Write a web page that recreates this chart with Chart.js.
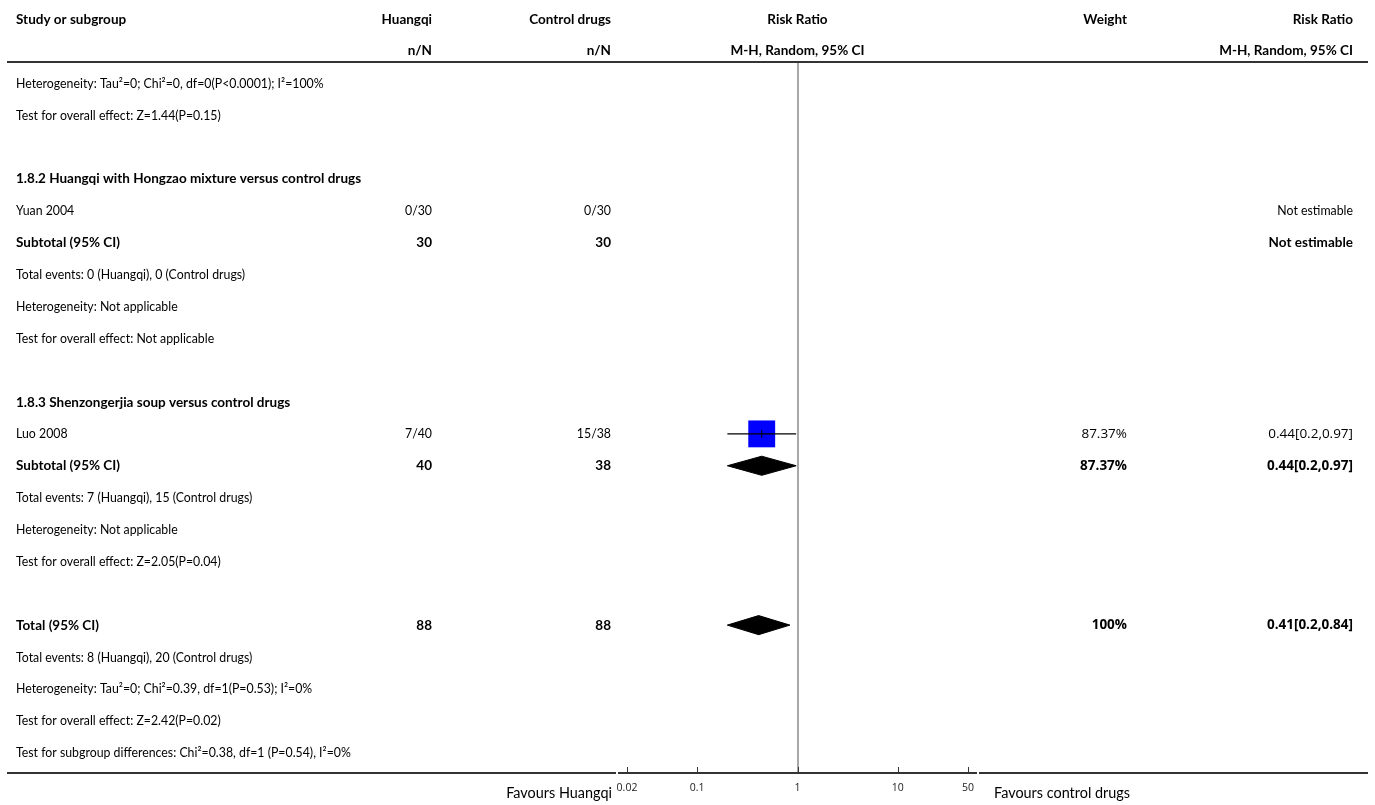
<!DOCTYPE html>
<html>
<head>
<meta charset="utf-8">
<script src="https://cdn.jsdelivr.net/npm/chart.js@4.4.1/dist/chart.umd.min.js"></script>
<style>
  html, body { margin: 0; padding: 0; background: #fff; }
  canvas { display: block; }
</style>
</head>
<body>
<canvas id="forest" width="1375" height="805"></canvas>
<script>
// ---- data ----
const headTop = ["Study or subgroup", "Huangqi", "Control drugs", "Risk Ratio", "Weight", "Risk Ratio"];
const headSub = ["", "n/N", "n/N", "M-H, Random, 95% CI", "", "M-H, Random, 95% CI"];

const rowLabels = [
  "Heterogeneity: Tau\u00b2=0; Chi\u00b2=0, df=0(P<0.0001); I\u00b2=100%",
  "Test for overall effect: Z=1.44(P=0.15)",
  "",
  "1.8.2 Huangqi with Hongzao mixture versus control drugs",
  "Yuan 2004",
  "Subtotal (95% CI)",
  "Total events: 0 (Huangqi), 0 (Control drugs)",
  "Heterogeneity: Not applicable",
  "Test for overall effect: Not applicable",
  "",
  "1.8.3 Shenzongerjia soup versus control drugs",
  "Luo 2008",
  "Subtotal (95% CI)",
  "Total events: 7 (Huangqi), 15 (Control drugs)",
  "Heterogeneity: Not applicable",
  "Test for overall effect: Z=2.05(P=0.04)",
  "",
  "Total (95% CI)",
  "Total events: 8 (Huangqi), 20 (Control drugs)",
  "Heterogeneity: Tau\u00b2=0; Chi\u00b2=0.39, df=1(P=0.53); I\u00b2=0%",
  "Test for overall effect: Z=2.42(P=0.02)",
  "Test for subgroup differences: Chi\u00b2=0.38, df=1 (P=0.54), I\u00b2=0%"
];
const boldRows = [3, 5, 10, 12, 17];

// row index -> cell text
const huangqiCells = { 4: "0/30", 5: "30", 11: "7/40", 12: "40", 17: "88" };
const controlCells = { 4: "0/30", 5: "30", 11: "15/38", 12: "38", 17: "88" };
const weightCells  = { 11: "87.37%", 12: "87.37%", 17: "100%" };
const rrCells      = { 4: "Not estimable", 5: "Not estimable", 11: "0.44[0.2,0.97]", 12: "0.44[0.2,0.97]", 17: "0.41[0.2,0.84]" };

// individual studies (square + CI)
const studyRows = [11];
const studyEst  = [0.44];
const studyLo   = [0.2];
const studyHi   = [0.97];

// pooled estimates (diamonds)
const pooledRows = [12, 17];
const pooledEst  = [0.44, 0.41];
const pooledLo   = [0.2, 0.2];
const pooledHi   = [0.97, 0.84];

const tickValues = [0.02, 0.1, 1, 10, 50];
const tickLabels = ["0.02", "0.1", "1", "10", "50"];
const favourLeft = "Favours Huangqi";
const favourRight = "Favours control drugs";

// ---- styling ----
const TXT = "Lato, 'Source Sans Pro', sans-serif";
const NUM = "'Open Sans', sans-serif";
const FS = 14;
const SQUEEZE_R = 0.88;   // Source Sans is narrower than Lato
const SQUEEZE_B = 0.965;

// draw text squeezed horizontally around its anchor
function put(ctx, text, px, py, align, font, sx) {
  ctx.save();
  ctx.font = font;
  ctx.textAlign = align;
  ctx.translate(px, py);
  ctx.scale(sx, 1);
  ctx.fillText(text, 0, 0);
  ctx.restore();
}

const ciSegments = [];
studyRows.forEach((r, i) => {
  ciSegments.push({ x: studyLo[i], y: r }, { x: studyHi[i], y: r }, { x: null, y: null });
});

const diamondSets = pooledRows.map((r, i) => ({
  type: "line",
  data: [
    { x: pooledLo[i], y: r }, { x: pooledEst[i], y: r - 0.3 },
    { x: pooledHi[i], y: r }, { x: pooledEst[i], y: r + 0.3 },
    { x: pooledLo[i], y: r }
  ],
  borderColor: "#000", backgroundColor: "#000", borderWidth: 1,
  fill: "shape", pointRadius: 0, tension: 0, spanGaps: false
}));

const forestTable = {
  id: "forestTable",
  beforeDatasetsDraw(chart) {
    const { ctx, chartArea: a, scales: { x } } = chart;
    const x1 = Math.round(x.getPixelForValue(1));
    ctx.save();
    ctx.strokeStyle = "#a8a8a8";
    ctx.lineWidth = 2;
    ctx.beginPath(); ctx.moveTo(x1, a.top); ctx.lineTo(x1, a.bottom); ctx.stroke();
    ctx.restore();
  },
  afterDraw(chart) {
    const { ctx, chartArea: a, scales: { x, y } } = chart;
    const W = chart.width;
    const colHq = 432, colCtl = 611, colW = 1127, colRR = 1353, left = 16;
    const mid = x.getPixelForValue(1);
    const fB = `bold ${FS}px ${TXT}`, fR = `${FS}px ${TXT}`;

    ctx.save();
    // rules
    ctx.strokeStyle = "#333";
    ctx.lineWidth = 2;
    ctx.beginPath(); ctx.moveTo(7, a.top); ctx.lineTo(W - 7, a.top); ctx.stroke();
    const xl = x.getPixelForValue(tickValues[0]) - 10, xr = x.getPixelForValue(tickValues[tickValues.length - 1]) + 10;
    ctx.beginPath();
    ctx.moveTo(7, a.bottom); ctx.lineTo(xl - 1, a.bottom);
    ctx.moveTo(xl + 1, a.bottom); ctx.lineTo(xr - 1, a.bottom);
    ctx.moveTo(xr + 1, a.bottom); ctx.lineTo(W - 7, a.bottom);
    ctx.stroke();
    ctx.lineWidth = 1;
    tickValues.forEach(v => {
      const px = Math.round(x.getPixelForValue(v)) + 0.5;
      ctx.beginPath(); ctx.moveTo(px, a.bottom); ctx.lineTo(px, a.bottom - 6); ctx.stroke();
    });

    // header
    ctx.fillStyle = "#000";
    ctx.textBaseline = "middle";
    const hx = [left, colHq, colCtl, mid, colW, colRR];
    const ha = ["left", "right", "right", "center", "right", "right"];
    [[headTop, 19], [headSub, 50]].forEach(([arr, hy]) => {
      arr.forEach((t, i) => put(ctx, t, hx[i], hy, ha[i], fB, SQUEEZE_B));
    });

    // body rows
    rowLabels.forEach((label, r) => {
      const py = y.getPixelForValue(r);
      const isBold = boldRows.includes(r);
      const f = isBold ? fB : fR;
      const sx = isBold ? SQUEEZE_B : SQUEEZE_R;
      put(ctx, label, left, py, "left", f, sx);
      if (huangqiCells[r]) put(ctx, huangqiCells[r], colHq, py, "right", f, sx);
      if (controlCells[r]) put(ctx, controlCells[r], colCtl, py, "right", f, sx);
      const bold = isBold ? "bold " : "";
      if (weightCells[r]) put(ctx, weightCells[r], colW, py, "right", `${bold}13.5px ${NUM}`, 1);
      if (rrCells[r]) {
        if (/^\d/.test(rrCells[r])) put(ctx, rrCells[r], colRR, py, "right", `${bold}13.5px ${NUM}`, 1);
        else put(ctx, rrCells[r], colRR, py, "right", f, sx);
      }
    });

    // favours labels
    const fF = `15.5px ${TXT}`;
    put(ctx, favourLeft, x.getPixelForValue(tickValues[0]) - 15, a.bottom + 20, "right", fF, 0.93);
    put(ctx, favourRight, x.getPixelForValue(tickValues[tickValues.length - 1]) + 26, a.bottom + 20, "left", fF, 0.93);
    ctx.restore();
  }
};

new Chart(document.getElementById("forest"), {
  type: "scatter",
  data: {
    datasets: [
      {
        type: "line", data: ciSegments, borderColor: "#000", borderWidth: 1.2,
        pointRadius: 0, spanGaps: false, tension: 0
      },
      {
        data: studyRows.map((r, i) => ({ x: studyEst[i], y: r })),
        pointStyle: "line", rotation: 90, pointRadius: 4,
        borderColor: "#000", borderWidth: 1
      },
      {
        data: studyRows.map((r, i) => ({ x: studyEst[i], y: r })),
        pointStyle: "rect", pointRadius: 19, backgroundColor: "#0000ff", borderWidth: 0
      },
      ...diamondSets
    ]
  },
  options: {
    responsive: false, animation: false, devicePixelRatio: 1,
    layout: { padding: { left: 627, right: 407, top: 62, bottom: 0 } },
    plugins: { legend: { display: false }, tooltip: { enabled: false } },
    scales: {
      x: {
        type: "logarithmic", min: tickValues[0], max: tickValues[tickValues.length - 1],
        afterBuildTicks: s => { s.ticks = tickValues.map(v => ({ value: v })); },
        afterFit: s => { s.height = 32; },
        ticks: {
          autoSkip: false, maxRotation: 0, padding: 9, color: "#222",
          font: { family: "Open Sans", size: 10.5 },
          callback: (v, i) => tickLabels[i]
        },
        grid: { display: false, drawTicks: false },
        border: { display: false }
      },
      y: {
        type: "linear", reverse: true, display: false,
        min: -0.668, max: 21.64
      }
    }
  },
  plugins: [forestTable]
});
</script>
</body>
</html>
